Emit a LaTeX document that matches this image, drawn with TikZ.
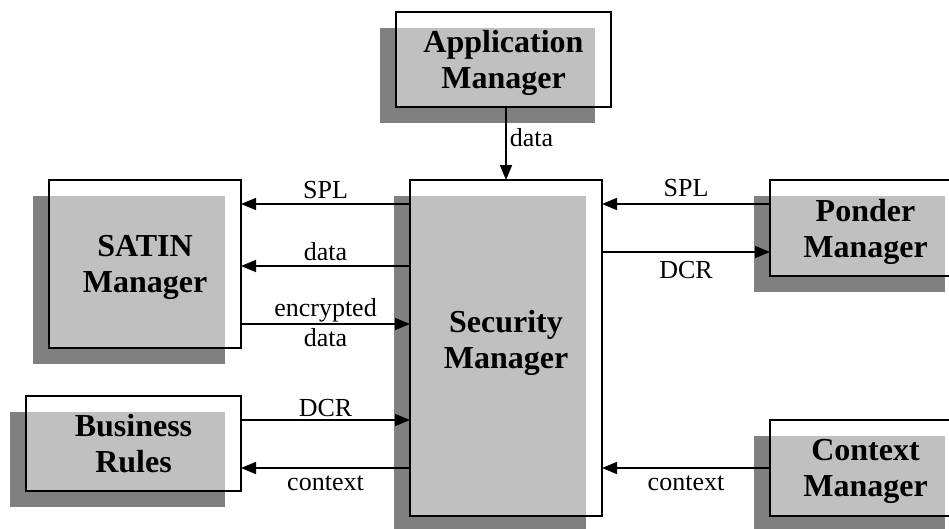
\documentclass[tikz,border=0pt]{standalone}
\usepackage{fontspec}
\setmainfont{Liberation Serif}
\usetikzlibrary{arrows.meta,backgrounds}
\definecolor{shadowgrey}{HTML}{808080}
\definecolor{panelgrey}{HTML}{C0C0C0}

\begin{document}
\begin{tikzpicture}[x=1pt,y=-1pt,
  mgr/.style={draw, line width=2pt, align=center, inner sep=0pt, outer sep=0pt,
              text depth=0pt, font=\bfseries\fontsize{32}{36}\selectfont},
  flow/.style={line width=1.6pt, -{Triangle[length=15pt,width=12pt]}},
  lab/.style={font=\fontsize{26}{30}\selectfont, inner sep=0pt, anchor=base},
  over/.style={lab, yshift=6pt},
  under/.style={lab, yshift=-22pt}]
\useasboundingbox (0,0) rectangle (949,528);

% manager boxes
\node[mgr, minimum width=215pt, minimum height=95pt]  (app) at (503.5,59.5) {Application\\Manager};
\node[mgr, minimum width=192pt, minimum height=336pt, text depth=18pt] (sec) at (506,348) {Security\\Manager};
\node[mgr, minimum width=192pt, minimum height=168pt] (sat) at (145,264) {SATIN\\Manager};
\node[mgr, minimum width=191pt, minimum height=96pt]  (pon) at (865.5,228) {Ponder\\Manager};
\node[mgr, minimum width=191pt, minimum height=96pt]  (ctx) at (865.5,468) {Context\\Manager};
\node[mgr, minimum width=215pt, minimum height=95pt]  (bus) at (133.5,443.5) {Business\\Rules};

% drop shadows and the grey panel where box and shadow overlap
\begin{scope}[on background layer]
  \foreach \n in {app,sec,sat,pon,ctx,bus}{
    \fill[shadowgrey] ([shift={(-16pt,-16pt)}]\n.south west) rectangle ([shift={(-16pt,-16pt)}]\n.north east);
    \fill[panelgrey] (\n.south west) rectangle ([shift={(-16pt,-16pt)}]\n.north east);
  }
\end{scope}

% heights of the horizontal connectors
\coordinate (ySPL)  at (0,204);
\coordinate (yData) at (0,266);
\coordinate (yEnc)  at (0,324);
\coordinate (yDCRl) at (0,420);
\coordinate (yDCRr) at (0,252);
\coordinate (yCtx)  at (0,468);

% connectors
\draw[flow] (sec.north |- app.south) -- node[lab, anchor=base west, xshift=3pt, yshift=-3pt] {data} (sec.north);

\draw[flow] (sec.west |- ySPL)  -- node[over] {SPL} (sat.east |- ySPL);
\draw[flow] (sec.west |- yData) -- node[over] {data} (sat.east |- yData);
\draw[flow] (sat.east |- yEnc)  -- node[over, yshift=2pt] {encrypted} node[under] {data} (sec.west |- yEnc);
\draw[flow] (bus.east |- yDCRl) -- node[over, yshift=-2pt] {DCR} (sec.west |- yDCRl);
\draw[flow] (sec.west |- yCtx)  -- node[under] {context} (bus.east |- yCtx);

\draw[flow] (pon.west |- ySPL)  -- node[over, yshift=2pt] {SPL} (sec.east |- ySPL);
\draw[flow] (sec.east |- yDCRr) -- node[under, yshift=-4pt] {DCR} (pon.west |- yDCRr);
\draw[flow] (ctx.west |- yCtx)  -- node[under] {context} (sec.east |- yCtx);
\end{tikzpicture}
\end{document}
